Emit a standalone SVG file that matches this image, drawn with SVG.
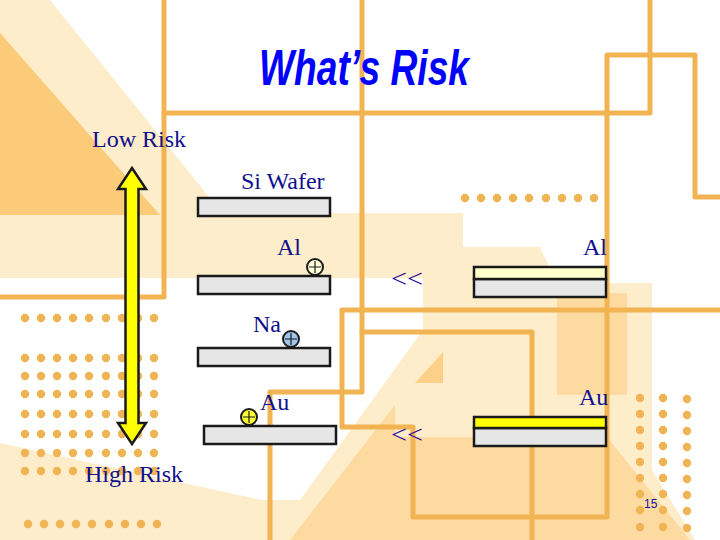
<svg xmlns="http://www.w3.org/2000/svg" width="720" height="540" viewBox="0 0 720 540">
<style>
.bgline{fill:none;stroke:#F2B453;stroke-width:5;stroke-linejoin:round;stroke-linecap:round}
.dot{fill:#F0B455}
.lbl{font-family:"Liberation Serif","Times New Roman",serif;font-size:24px;fill:#10108C}
.wafer{fill:#E6E6E6;stroke:#1a1a1a;stroke-width:2.5}
.wafer.al{fill:#FFFFCC}
.wafer.au{fill:#FFFF00}
.ion{stroke:#1a1a1a;stroke-width:2}
.plus{stroke:#1a1a1a;stroke-width:1.2;fill:none}
.lt{font-family:"Liberation Serif","Times New Roman",serif;font-size:26px;fill:#2A0A9A}
</style>
<defs>
<circle id="d" r="4.2" class="dot"/>
<g id="row9">
<use href="#d" x="0"/><use href="#d" x="16"/><use href="#d" x="32"/><use href="#d" x="48"/><use href="#d" x="64"/><use href="#d" x="81"/><use href="#d" x="97"/><use href="#d" x="113"/><use href="#d" x="129"/>
</g>
</defs>
<g id="background">
<rect width="720" height="540" fill="#FEEDCB"/>
<polygon points="50,0 720,0 720,540 695,540 652,470 652,283 557,283 540,247 463,247 463,213 222,213" fill="#FFFFFF"/>
<polygon points="0,278 423,278 423,330 300,500 262,500 0,443" fill="#FFFFFF"/>
<polygon points="0,33 160,215 0,215" fill="#FCCB7A"/>
<polygon points="290,540 395,405 395,437 607,437 690,540" fill="#FDDBA0"/>
<rect x="557" y="293" width="70" height="102" fill="#FDDBA0"/>
<polygon points="415,383 443,352 443,383" fill="#FDD08A"/>
<path class="bgline" d="M164,0 V297 H0"/>
<path class="bgline" d="M164,113 H650 V0"/>
<path class="bgline" d="M720,197 H695 V55 H607 V517 H413 V427 H342 V310 H720"/>
<path class="bgline" d="M362,0 V392 H270 V540"/>
<path class="bgline" d="M362,332 H532 V540"/>
<use href="#row9" x="465" y="198"/>
<use href="#row9" x="25" y="318"/>
<use href="#row9" x="25" y="358"/>
<use href="#row9" x="25" y="376"/>
<use href="#row9" x="25" y="394"/>
<use href="#row9" x="25" y="414"/>
<use href="#row9" x="25" y="434"/>
<use href="#row9" x="25" y="453"/>
<use href="#row9" x="25" y="471"/>
<use href="#row9" x="28" y="524"/>
<g id="rightdots">
<use href="#d" x="640" y="398"/><use href="#d" x="640" y="414"/><use href="#d" x="640" y="430"/><use href="#d" x="640" y="446"/><use href="#d" x="640" y="462"/><use href="#d" x="640" y="478"/><use href="#d" x="640" y="494"/><use href="#d" x="640" y="510"/><use href="#d" x="640" y="527"/>
<use href="#d" x="663" y="398"/><use href="#d" x="663" y="414"/><use href="#d" x="663" y="430"/><use href="#d" x="663" y="446"/><use href="#d" x="663" y="462"/><use href="#d" x="663" y="478"/><use href="#d" x="663" y="494"/><use href="#d" x="663" y="510"/><use href="#d" x="663" y="527"/>
<use href="#d" x="687" y="399"/><use href="#d" x="687" y="415"/><use href="#d" x="687" y="431"/><use href="#d" x="687" y="447"/><use href="#d" x="687" y="463"/><use href="#d" x="687" y="479"/><use href="#d" x="687" y="495"/><use href="#d" x="687" y="511"/><use href="#d" x="687" y="528"/>
</g>
</g>
<g id="title">
<text x="259" y="85" font-family="'Liberation Sans',Arial,sans-serif" font-size="50" font-weight="bold" font-style="italic" fill="#0000FF" textLength="210" lengthAdjust="spacingAndGlyphs">What’s Risk</text>
</g>
<g id="risk-arrow">
<polygon points="132,168 146,189 138.5,189 138.5,423 146,423 132,444 118,423 125.5,423 125.5,189 118,189" fill="#FFFF00" stroke="#1a1a1a" stroke-width="2.5" stroke-linejoin="miter"/>
<text class="lbl" x="92" y="147">Low Risk</text>
<text class="lbl" x="85" y="482">High Risk</text>
</g>
<g id="si-wafer">
<text class="lbl" x="241" y="189">Si Wafer</text>
<rect class="wafer" x="198" y="198" width="132" height="18"/>
</g>
<g id="al-wafer">
<text class="lbl" x="277" y="255">Al</text>
<rect class="wafer" x="198" y="276" width="132" height="18"/>
<circle class="ion" cx="315" cy="267" r="8" fill="#FFFFD8"/>
<path class="plus" d="M309,267 H321 M315,261 V273"/>
</g>
<g id="na-wafer">
<text class="lbl" x="253" y="332">Na</text>
<rect class="wafer" x="198" y="348" width="132" height="18"/>
<circle class="ion" cx="291" cy="339" r="8" fill="#9FC5EA"/>
<path class="plus" d="M285,339 H297 M291,333 V345"/>
</g>
<g id="au-wafer">
<text class="lbl" x="260" y="410">Au</text>
<rect class="wafer" x="204" y="426" width="132" height="18"/>
<circle class="ion" cx="249" cy="417" r="8" fill="#FFFF33"/>
<path class="plus" d="M243,417 H255 M249,411 V423"/>
</g>
<g id="al-coated">
<text class="lbl" x="583" y="255">Al</text>
<rect class="wafer" x="474" y="279" width="132" height="18"/>
<rect class="wafer al" x="474" y="267" width="132" height="12"/>
<text class="lt" x="391" y="287" textLength="32" lengthAdjust="spacingAndGlyphs">&lt;&lt;</text>
</g>
<g id="au-coated">
<text class="lbl" x="579" y="405">Au</text>
<rect class="wafer" x="474" y="428" width="132" height="18"/>
<rect class="wafer au" x="474" y="417" width="132" height="11"/>
<text class="lt" x="391" y="443" textLength="32" lengthAdjust="spacingAndGlyphs">&lt;&lt;</text>
</g>
<g id="page">
<text x="644" y="508" font-family="'Liberation Sans',Arial,sans-serif" font-size="12" fill="#1010A0">15</text>
</g>
</svg>
